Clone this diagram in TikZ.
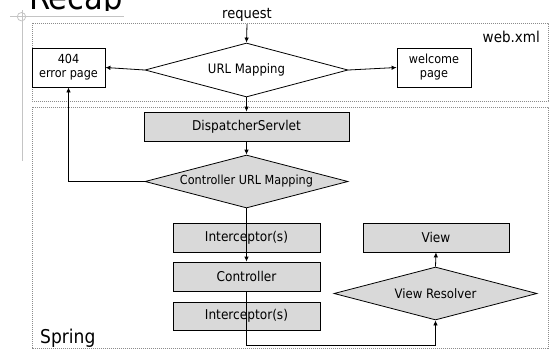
\documentclass[tikz,border=0pt]{standalone}
\usepackage{fontspec}
\setmainfont{DejaVu Sans Condensed}
\usetikzlibrary{shapes.geometric,arrows.meta,calc}
\definecolor{boxgrey}{HTML}{D9D9D9}
\definecolor{deco}{HTML}{C4C4C4}
\definecolor{dashgrey}{HTML}{8C8C8C}
\tikzset{
  box/.style={draw, line width=0.8pt, inner sep=0pt, align=center, font=\fontsize{12.5}{14}\selectfont},
  gbox/.style={box, fill=boxgrey, font=\fontsize{13.5}{15}\selectfont},
  dia/.style={diamond, draw, line width=0.8pt, inner sep=0pt, aspect=3.8, minimum width=203pt, minimum height=54pt, font=\fontsize{13}{15}\selectfont},
  arr/.style={-{Latex[length=5pt,width=4.5pt]}, line width=0.8pt},
  conn/.style={line width=0.8pt},
  region/.style={draw=dashgrey, dash pattern=on 1.2pt off 0.8pt, line width=0.8pt},
  decoline/.style={draw=deco, line width=0.8pt}
}
\begin{document}
\begin{tikzpicture}[x=1pt,y=-1pt]
\useasboundingbox (0,0) rectangle (558,351);
% slide decoration
\begin{scope}
\clip (0,0) rectangle (558,10);
\node[anchor=base west, inner sep=0pt, font=\fontsize{34}{36}\selectfont] (title) at (29,9) {Recap};
\end{scope}
\draw[decoline] (10,16.7) -- (124,16.7);
\draw[decoline] (22,10) -- (22,161);
\draw[decoline] (21.5,16.7) circle (4.2pt);
% regions
\draw[region] (32,23) rectangle (548,101);
\draw[region] (32,107) rectangle (548,348);
\node[anchor=base east, inner sep=0pt, font=\fontsize{15}{17}\selectfont] (webxml) at (540,42) {web.xml};
\node[anchor=base west, inner sep=0pt, font=\fontsize{19}{21}\selectfont] (spring) at (40,343) {Spring};
% nodes
\node[inner sep=0pt, font=\fontsize{14.5}{16}\selectfont, anchor=base] (req) at (247,18) {request};
\node[dia, fill=white] (url) at (246.5,70) {URL Mapping};
\node[box, minimum width=73pt, minimum height=39pt] (e404) at (68.5,67.5) {404\\error page};
\node[box, minimum width=74pt, minimum height=39pt] (welcome) at (434,67.5) {welcome\\page};
\node[gbox, minimum width=205pt, minimum height=29pt] (disp) at (246.5,126.5) {DispatcherServlet};
\node[dia, fill=boxgrey, minimum height=53pt, font=\fontsize{12.5}{14}\selectfont] (curl) at (246.5,181.5) {Controller URL Mapping};
\node[gbox, minimum width=147pt, minimum height=29pt] (int1) at (246.5,237.5) {Interceptor(s)};
\node[gbox, minimum width=147pt, minimum height=29pt] (ctrl) at (246.5,276.5) {Controller};
\node[gbox, minimum width=147pt, minimum height=28pt] (int2) at (246.5,316) {Interceptor(s)};
\node[gbox, minimum width=146pt, minimum height=29pt] (view) at (436,237.5) {View};
\node[dia, fill=boxgrey, minimum height=53pt] (vr) at (435.5,293.5) {View Resolver};
\coordinate (turn) at (246.5,345);
% connectors
\draw[arr] ([yshift=-3pt]req.south) -- (url.north);
\draw[arr] (url.west) -- (e404.east);
\draw[arr] (url.east) -- (welcome.west);
\draw[arr] (url.south) -- (disp.north);
\draw[arr] (disp.south) -- (curl.north);
\draw[arr] (curl.west) -| (e404.south);
\draw[arr] (curl.south) -- (ctrl.north);
\draw[arr] (ctrl.south) -- (turn) -| (vr.south);
\draw[arr] (vr.north) -- (view.south);
\end{tikzpicture}
\end{document}
